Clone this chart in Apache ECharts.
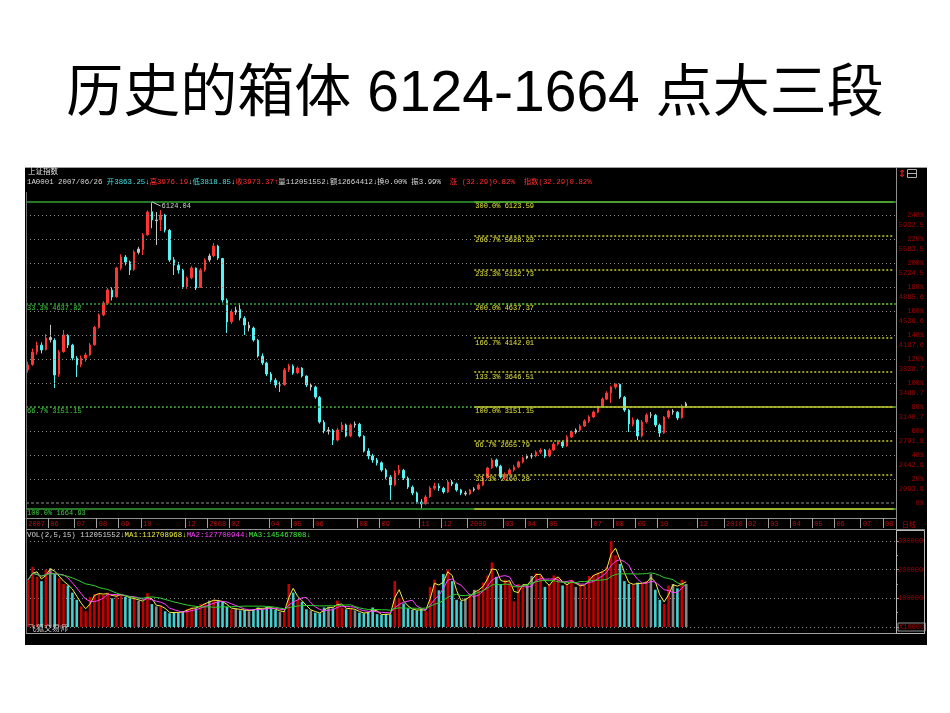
<!DOCTYPE html>
<html><head><meta charset="utf-8">
<script src="https://cdn.jsdelivr.net/npm/echarts@6/dist/echarts.min.js"></script>
<style>html,body{margin:0;padding:0;background:#fff}#c{width:950px;height:713px}</style>
</head><body><div id="c"></div>
<script>
// ---------------- data ----------------
// candles: [open, close, low, high]
const candles = [
[3680,3752,3640,3800],[3760,3941,3740,3990],[3945,4042,3900,4090],[4040,3970,3920,4080],[3975,4144,3960,4200],
[4150,4120,4080,4335],[4110,3606,3417,4140],[3620,3941,3580,3970],[3945,4188,3930,4261],[4180,4042,4000,4200],
[4040,3853,3820,4060],[3850,3752,3577,3880],[3760,3853,3720,3890],[3850,3897,3800,3930],[3900,4042,3880,4070],
[4045,4300,4030,4320],[4300,4479,4280,4500],[4480,4653,4460,4680],[4650,4842,4630,4871],[4840,4740,4690,4880],
[4745,5162,4730,5180],[5160,5322,5130,5360],[5320,5249,5200,5350],[5250,5133,5060,5270],[5140,5395,5120,5420],
[5390,5438,5360,5470],[5430,5642,5350,5670],[5645,5976,5630,6000],[5980,5860,5740,6124.04],[5850,5860,5497,5976],
[5860,5933,5700,6005],[5930,5715,5680,5950],[5710,5278,5250,5730],[5280,5206,5060,5320],[5200,5133,5080,5250],
[5130,4886,4860,5150],[4890,5017,4860,5040],[5020,5162,5000,5190],[5160,4871,4842,5170],[4880,5133,4870,5160],
[5135,5278,5110,5300],[5280,5336,5250,5370],[5340,5482,5320,5525],[5480,5307,5280,5500],[5300,4697,4660,5310],
[4690,4377,4217,4720],[4380,4522,4350,4560],[4520,4551,4480,4600],[4560,4435,4400,4653],[4430,4333,4188,4460],
[4330,4290,4240,4380],[4290,4115,4090,4310],[4110,3882,3860,4130],[3880,3781,3750,3920],[3780,3621,3590,3800],
[3620,3534,3500,3650],[3530,3461,3420,3560],[3460,3461,3359,3510],[3465,3679,3450,3710],[3680,3737,3650,3770],
[3735,3635,3610,3760],[3640,3708,3620,3730],[3705,3592,3570,3720],[3590,3461,3430,3600],[3460,3432,3380,3490],
[3430,3286,3260,3450],[3280,2923,2900,3300],[2920,2792,2760,2950],[2790,2806,2740,2850],[2800,2661,2588,2820],
[2660,2806,2640,2840],[2810,2879,2780,2923],[2880,2719,2700,2900],[2720,2879,2700,2900],[2880,2894,2840,2930],
[2890,2719,2700,2910],[2715,2501,2480,2730],[2500,2428,2380,2540],[2430,2370,2330,2460],[2370,2327,2290,2400],
[2330,2225,2200,2350],[2225,2123,2090,2250],[2120,2007,1789,2150],[2010,2181,1990,2220],[2180,2225,2150,2298],
[2220,2108,2080,2240],[2105,1978,1950,2130],[1975,1890,1860,2000],[1890,1760,1730,1910],[1760,1731,1665,1800],
[1735,1832,1720,1860],[1835,1963,1820,1990],[1960,1992,1930,2040],[1990,1963,1920,2030],[1960,1905,1880,1980],
[1905,2050,1890,2080],[2050,2021,1990,2080],[2020,1934,1910,2040],[1935,1890,1860,1950],[1890,1876,1850,1920],
[1875,1934,1860,1950],[1935,1949,1910,1975],[1950,2007,1930,2030],[2005,2108,1990,2130],[2110,2254,2100,2270],
[2255,2370,2240,2400],[2370,2283,2260,2390],[2280,2123,2100,2300],[2125,2166,2080,2190],[2165,2225,2140,2250],
[2225,2269,2200,2300],[2270,2341,2250,2360],[2340,2399,2320,2420],[2400,2428,2380,2450],[2430,2428,2390,2470],
[2430,2487,2410,2510],[2485,2516,2460,2540],[2515,2428,2400,2530],[2430,2516,2410,2540],[2515,2603,2500,2630],
[2600,2632,2580,2660],[2630,2574,2545,2650],[2575,2705,2560,2730],[2705,2777,2690,2800],[2775,2806,2750,2830],
[2805,2865,2780,2890],[2865,2937,2850,2960],[2935,2996,2910,3020],[2995,3068,2980,3090],[3065,3141,3050,3160],
[3140,3257,3130,3280],[3255,3344,3240,3370],[3345,3432,3199,3450],[3430,3476,3400,3478],[3470,3286,3260,3480],
[3280,3097,3070,3300],[3095,2894,2777,3110],[2890,2952,2860,2990],[2950,2719,2661,2970],[2720,2923,2700,2950],
[2925,3025,2900,3050],[3025,3025,2980,3068],[3020,2879,2850,3040],[2875,2763,2705,2900],[2765,2996,2750,3010],
[2995,3083,2970,3100],[3080,3068,3030,3110],[3065,2981,2950,3080],[2985,3155,2970,3180],[3155,3187.6,3130,3215]
];
const volumes = [
165000,210000,175000,160000,200000,205000,185000,170000,150000,145000,
120000,95000,72000,55000,105000,115000,118000,112000,120000,100000,
115000,112000,105000,100000,98000,92000,88000,118000,80000,72000,
75000,55000,48000,52000,50000,55000,62000,68000,65000,80000,
82000,92000,95000,90000,88000,70000,62000,65000,58000,60000,
55000,62000,68000,62000,70000,65000,60000,52000,55000,150000,
120000,95000,88000,62000,58000,50000,48000,68000,70000,65000,
92000,68000,62000,66000,58000,50000,48000,52000,68000,45000,
42000,46000,44000,160000,100000,82000,65000,60000,58000,62000,
55000,140000,165000,128000,185000,200000,160000,95000,90000,100000,
112000,130000,128000,155000,180000,225000,175000,150000,165000,158000,
90000,150000,145000,150000,178000,188000,180000,140000,150000,180000,
170000,145000,150000,165000,140000,148000,145000,178000,182000,190000,
195000,210000,300000,250000,220000,160000,150000,148000,155000,150000,
160000,185000,130000,95000,80000,145000,150000,135000,165000,150000
];
const totalSlots = 197;
const dateTicks = [[0,'2007'],[5,'06'],[11,'07'],[16,'08'],[21,'09'],[26,'10'],[36,'12'],[41,'2008'],[46,'02'],
[55,'04'],[60,'05'],[65,'06'],[75,'08'],[80,'09'],[89,'11'],[94,'12'],[100,'2009'],[108,'03'],[113,'04'],[118,'05'],
[128,'07'],[133,'08'],[138,'09'],[143,'10'],[152,'12'],[158,'2010'],[163,'02'],[168,'03'],[173,'04'],[178,'05'],
[183,'06'],[189,'07'],[194,'08']];
const pctBase = 1744.9;
const pctTicks = [0,20,40,60,80,100,120,140,160,180,200,220,240];
const pctValueLabels = ['','2093.9','2442.9','2791.8','3140.7','3489.7','3838.7','4187.6','4536.6','4885.6','5234.5','5583.5','5932.5'];
const leftFibLevels = [6124.04,4637.82,3151.15,1664.93];
const leftFibLabels = ['','33.3% 4637.82','66.7% 3151.15','100.0% 1664.93'];
const rightFibLevels = [6123.59,5628.23,5132.73,4637.37,4142.01,3646.51,3151.15,2655.79,2160.28,1664.93];
const rightFibLabels = ['300.0% 6123.59','266.7% 5628.23','233.3% 5132.73','200.0% 4637.37','166.7% 4142.01','133.3% 3646.51','100.0% 3151.15','66.7% 2655.79','33.3% 2160.28',''];
const volTicks = [0,100000,200000,300000];
const volTickLabels = ['X10000','100000','200000','300000'];
const maPeriods = [2,5,15];

// ---------------- styling ----------------
const MONO = "'Liberation Mono','DejaVu Sans Mono','Noto Sans CJK SC',monospace";
const C_RED='#ff3434', C_CYAN='#54f4f4', C_GRAY='#c4c4c4';
const V_RED='#c40000', V_CYAN='#44d0d0', V_GRAY='#868686';
const AX_RED='#a00000';
const YEL_LINE='#c8c832', YEL_TXT='#e4e43c', GRN_LINE='#32a032', GRN_TXT='#3ccc3c';
const fibStartIdx = 101;

function kind(d){const o=d[0],c=d[1]; if(Math.abs(c-o)/o<0.012) return 0; return c>o?1:-1;}
const cCol = k => k===0?C_GRAY:(k>0?C_RED:C_CYAN);
const vCol = k => k===0?V_GRAY:(k>0?V_RED:V_CYAN);

const categories = new Array(totalSlots).fill('');
dateTicks.forEach(([k,t])=>{categories[k]=t;});

function ma(arr,n){return arr.map((v,i)=>{const s=Math.max(0,i-n+1);const w=arr.slice(s,i+1);return Math.round(w.reduce((a,b)=>a+b,0)/w.length);});}

// mark lines
const ml = [];
const pRich = {
  p:{width:27,align:'right',color:AX_RED,fontSize:7,fontFamily:MONO,lineHeight:10},
  v:{width:27,align:'right',color:AX_RED,fontSize:7,fontFamily:MONO,lineHeight:10}
};
pctTicks.forEach((p,i)=>{
  const hv = pctValueLabels[i]!=='';
  ml.push({yAxis:pctBase*(1+p/100),
    lineStyle:{color:p===0?'#606060':'#8c8c8c',type:p===0?[3,2]:[1,3],width:p===0?1.5:1},
    label:{show:true,position:'end',distance:1,offset:hv?[0,5]:[0,0],
      formatter:hv?('{p|'+p+'%}\n{v|'+pctValueLabels[i]+'}'):('{p|'+p+'%}'),rich:pRich}});
});
const fibLabel = (txt,col)=>({show:txt!=='',position:'insideStartBottom',distance:[1,1],formatter:txt,color:col,fontSize:7,fontFamily:MONO});
[2,3].forEach(i=>{
  ml.push({yAxis:leftFibLevels[i],lineStyle:{color:GRN_LINE,type:i===3?'solid':[2,2],width:1.5},label:fibLabel(leftFibLabels[i],GRN_TXT)});
});
rightFibLevels.forEach((v,i)=>{
  const solid = (i===0||i===6||i===9);
  ml.push([{coord:[fibStartIdx,v],lineStyle:{color:YEL_LINE,type:solid?'solid':[2,2],width:1.5},label:fibLabel(rightFibLabels[i],YEL_TXT)},{coord:[totalSlots-1,v]}]);
});
[0,1].forEach(i=>{
  ml.push({yAxis:leftFibLevels[i],lineStyle:{color:GRN_LINE,type:i===0?'solid':[2,2],width:1.5},label:fibLabel(leftFibLabels[i],GRN_TXT)});
});
let pk=0; candles.forEach((d,i)=>{if(d[3]>candles[pk][3]) pk=i;});
ml.push([{coord:[pk,candles[pk][3]],lineStyle:{color:'#c8c8c8',type:'solid',width:1},
  label:{show:true,position:'end',distance:1,formatter:candles[pk][3].toFixed(2),color:'#d0d0d0',fontSize:7,fontFamily:MONO}},
  {coord:[pk+2,candles[pk][3]-60]}]);
const lastClose = candles[candles.length-1][1];
ml.push({yAxis:lastClose,lineStyle:{opacity:0,width:0},
  label:{show:true,position:'end',distance:1,formatter:lastClose.toFixed(1),color:'#e00000',backgroundColor:'#ffffff',
    padding:[1,2,0,2],width:26,fontSize:7.5,fontFamily:MONO}});

const gfx = [];
gfx.push({type:'rect',z:0,shape:{x:25,y:167,width:902,height:478},style:{fill:'#000'}});
gfx.push({type:'text',z:10,style:{x:475,y:95,text:'历史的箱体 6124-1664 点大三段',fontSize:57,
  fontFamily:"'Liberation Sans','Noto Sans CJK SC',sans-serif",fill:'#000',align:'center',verticalAlign:'middle'}});
const line=(x1,y1,x2,y2,col,w)=>({type:'line',z:50,shape:{x1,y1,x2,y2},style:{stroke:col,lineWidth:w||1}});
gfx.push(line(25,167.5,927,167.5,'#a0a0a0'));
gfx.push(line(896.5,168,896.5,633,'#909090'));
gfx.push(line(26.5,192,26.5,633,'#707070'));
gfx.push(line(26,529.5,925,529.5,'#909090'));
gfx.push(line(26,633.5,925,633.5,'#a0a0a0'));
gfx.push({type:'rect',z:50,shape:{x:896.5,y:530.5,width:28,height:103},style:{fill:'none',stroke:'#b8b8b8',lineWidth:1}});
gfx.push({type:'text',z:60,style:{x:28,y:172,text:'上证指数',fontSize:7.5,fontFamily:MONO,fill:'#e0e0e0',verticalAlign:'middle'}});
const tk = (f)=>({fill:f,fontSize:7.4,fontFamily:MONO});
const hRich = {w:tk('#d8d8d8'),c:tk('#40e0e0'),r:tk('#ff3030'),y:tk('#f0f040'),m:tk('#ff40ff'),g:tk('#40f040')};
gfx.push({type:'text',z:60,style:{x:27,y:182,verticalAlign:'middle',fill:'#d8d8d8',fontSize:7.4,fontFamily:MONO,rich:hRich,
  text:'{w|1A0001 2007/06/26 }{c|开3863.25}{w|↓}{r|高3976.19}{w|↓}{c|低3818.85}{w|↓}{r|收3973.37↑}{w|量112051552↓额12664412↓换0.00% 振3.99%  }{r|涨 (32.29)0.82%  指数(32.29)0.82%}'}});
gfx.push({type:'text',z:60,style:{x:27,y:535,verticalAlign:'middle',fill:'#d8d8d8',fontSize:7.4,fontFamily:MONO,rich:hRich,
  text:'{w|VOL(2,5,15) 112051552↓}{y|MA1:112708968↓}{m|MA2:127700944↓}{g|MA3:145467808↓}'}});
gfx.push({type:'text',z:60,style:{x:28,y:628,text:'飞狐交易师',fontSize:8,fontFamily:"'Noto Sans CJK SC',sans-serif",fill:'#c8c8c8',verticalAlign:'middle'}});
gfx.push({type:'text',z:60,style:{x:902,y:524,text:'日线',fontSize:7,fontFamily:"'Noto Sans CJK SC',sans-serif",fill:'#c00000',verticalAlign:'middle'}});
gfx.push({type:'text',z:60,style:{x:898,y:174,text:'⇕',fontSize:10,fontFamily:"'DejaVu Sans',sans-serif",fill:'#ff2020',verticalAlign:'middle'}});
gfx.push({type:'rect',z:60,shape:{x:907.5,y:169.5,width:9,height:8},style:{fill:'none',stroke:'#b0b0b0',lineWidth:1}});
gfx.push(line(907.5,173.5,916.5,173.5,'#b0b0b0'));

const chart = echarts.init(document.getElementById('c'), null, {renderer:'canvas'});
chart.setOption({
  animation:false,
  backgroundColor:'#ffffff',
  graphic:{elements:gfx},
  grid:[{left:26,top:192,width:870,height:326},{left:26,top:541,width:870,height:86}],
  xAxis:[
    {type:'category',gridIndex:0,data:categories,boundaryGap:true,
     axisLine:{show:true,onZero:false,lineStyle:{color:'#909090'}},
     axisTick:{show:true,length:10,interval:(i,v)=>v!=='',lineStyle:{color:'#a0a0a0'}},
     axisLabel:{show:true,interval:0,align:'left',margin:3,color:'#b81010',fontSize:7,fontFamily:MONO},
     splitLine:{show:false}},
    {type:'category',gridIndex:1,data:categories,boundaryGap:true,show:false}
  ],
  yAxis:[
    {type:'value',gridIndex:0,min:1526.8,max:6267.2,show:false},
    {type:'value',gridIndex:1,min:0,max:300000,interval:100000,position:'right',
     axisLine:{show:false},axisTick:{show:true,length:3,lineStyle:{color:'#909090'}},
     minorTick:{show:true,splitNumber:2,length:2,lineStyle:{color:'#909090'}},
     splitLine:{show:true,lineStyle:{color:'#8c8c8c',type:[1,3]}},
     axisLabel:{show:true,margin:2,color:AX_RED,fontSize:7,fontFamily:MONO,
       formatter:v=>{const i=volTicks.indexOf(v);const t=i>=0?volTickLabels[i]:'';return v===0?'{b|'+t+'}':t;},
       rich:{b:{color:AX_RED,fontSize:7,fontFamily:MONO,borderColor:'#909090',borderWidth:1,padding:[1,1,0,1]}}}}
  ],
  series:[
    {type:'candlestick',xAxisIndex:0,yAxisIndex:0,barWidth:2,
     data:candles.map(d=>{const c=cCol(kind(d));return {value:d,itemStyle:{color:c,color0:c,borderColor:c,borderColor0:c,borderWidth:1}};}),
     markLine:{silent:true,symbol:['none','none'],animation:false,data:ml}},
    {type:'bar',xAxisIndex:1,yAxisIndex:1,barWidth:2.6,
     data:volumes.map((v,i)=>({value:v,itemStyle:{color:vCol(kind(candles[i]))}}))},
    {type:'line',xAxisIndex:1,yAxisIndex:1,showSymbol:false,data:ma(volumes,maPeriods[0]),lineStyle:{color:'#f0f040',width:1},z:5},
    {type:'line',xAxisIndex:1,yAxisIndex:1,showSymbol:false,data:ma(volumes,maPeriods[1]),lineStyle:{color:'#ff40ff',width:1},z:5},
    {type:'line',xAxisIndex:1,yAxisIndex:1,showSymbol:false,data:ma(volumes,maPeriods[2]),lineStyle:{color:'#30d030',width:1},z:5}
  ]
});
</script></body></html>
